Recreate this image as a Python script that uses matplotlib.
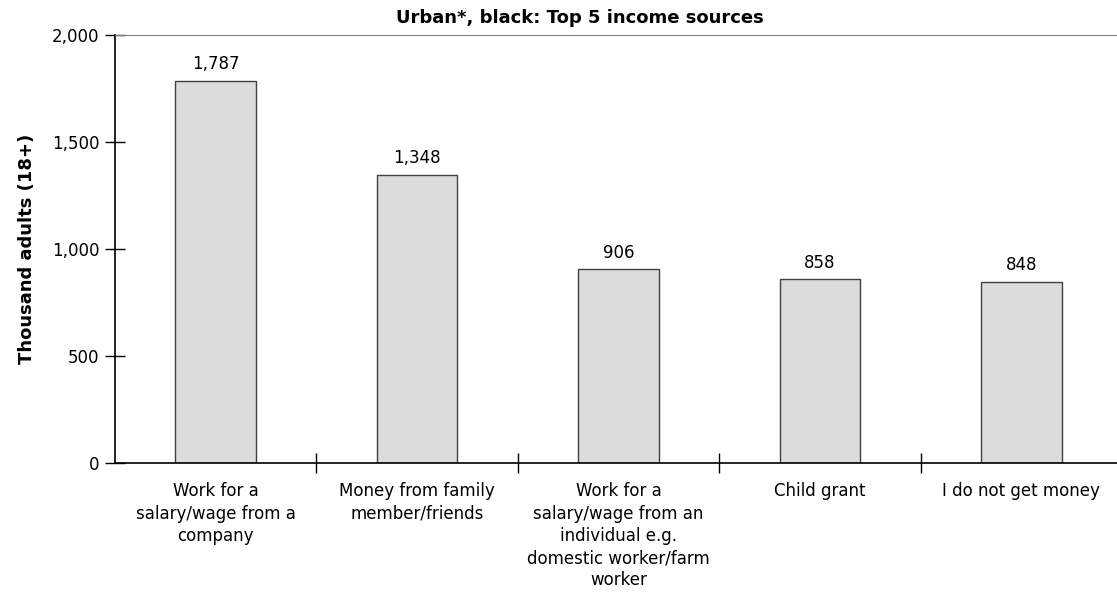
import matplotlib.pyplot as plt
from matplotlib.ticker import FuncFormatter, FixedLocator

categories = ["Work for a\nsalary/wage from a\ncompany",
              "Money from family\nmember/friends",
              "Work for a\nsalary/wage from an\nindividual e.g.\ndomestic worker/farm\nworker",
              "Child grant",
              "I do not get money"]
values = [1787, 1348, 906, 858, 848]

fig = plt.figure(figsize=(11.17, 6.01), dpi=100)
ax = fig.add_axes([115 / 1117, 1 - 463 / 601, (1122 - 115) / 1117, (463 - 35) / 601])

x = list(range(len(values)))
bars = ax.bar(x, values, width=0.4, color="#dcdcdc", edgecolor="#404040", linewidth=1)
for b, v in zip(bars, values):
    ax.text(b.get_x() + b.get_width() / 2, v + 35, f"{v:,}", ha="center", va="bottom", fontsize=12)

ax.set_xlim(-0.5, len(values) - 0.5)
ax.set_ylim(0, 2000)
ax.set_yticks([0, 500, 1000, 1500, 2000])
ax.yaxis.set_major_formatter(FuncFormatter(lambda v, p: f"{int(v):,}"))
ax.tick_params(axis="y", direction="inout", length=14, width=1, labelsize=12, pad=4)

# category labels sit at the centres, ticks at the boundaries
ax.set_xticks(x)
ax.set_xticklabels(categories, fontsize=12, linespacing=1.3)
ax.tick_params(axis="x", which="major", length=0, pad=14)
ax.xaxis.set_minor_locator(FixedLocator([i + 0.5 for i in range(len(values))]))
ax.tick_params(axis="x", which="minor", direction="inout", length=14, width=1)

ax.spines["right"].set_visible(False)
ax.spines["top"].set_color("#808080")
ax.spines["left"].set_linewidth(1.2)
ax.spines["bottom"].set_linewidth(1.2)

ax.set_ylabel("Thousand adults (18+)", fontsize=13, fontweight="bold", labelpad=12)
fig.text(580 / 1117, 1 - 18 / 601, "Urban*, black: Top 5 income sources",
         ha="center", va="center", fontsize=13, fontweight="bold")

fig.savefig("out.png", dpi=100)
